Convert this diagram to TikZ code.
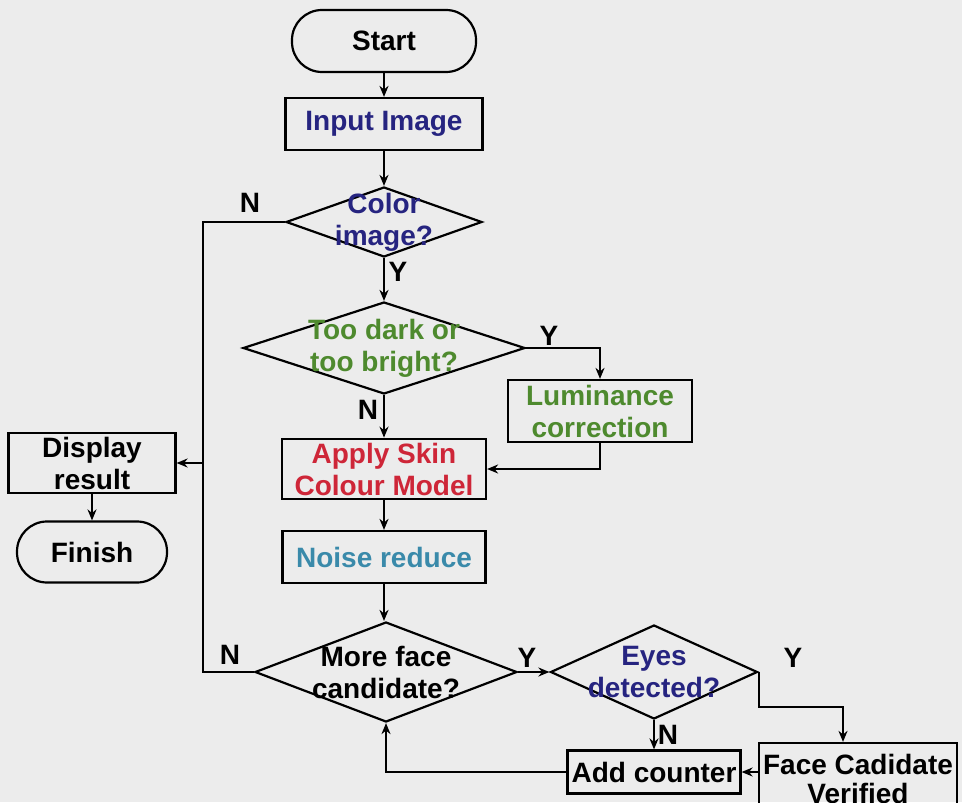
\documentclass[tikz,border=0pt]{standalone}
\usepackage{fontspec}
\setmainfont{Liberation Sans}
\usetikzlibrary{positioning,arrows.meta,shapes.geometric}

\definecolor{paper}{RGB}{236,236,236}
\definecolor{qnavy}{RGB}{38,36,128}
\definecolor{qgreen}{RGB}{78,138,46}
\definecolor{qred}{RGB}{206,38,56}
\definecolor{qteal}{RGB}{58,138,170}

\begin{document}
\begin{tikzpicture}[
    x=0.5pt, y=-0.5pt,
    font=\fontsize{14}{16}\selectfont\bfseries,
    box/.style={rectangle, draw, line width=1.1pt, inner sep=2pt, align=center},
    terminal/.style={rectangle, draw, line width=1.1pt, rounded corners=15pt, align=center},
    decision/.style={diamond, draw, line width=1.1pt, inner sep=0pt},
    yn/.style={font=\fontsize{14}{16}\selectfont\bfseries},
    arrow/.style={-{Stealth[length=5.5pt,width=4.5pt]}, line width=1.1pt},
    line/.style={line width=1.1pt}
]
\fill[paper] (0,0) rectangle (962,802);
\useasboundingbox (0,0) rectangle (962,802);
\clip (0,0) rectangle (962,802);

% -------- Main column --------
\node[terminal, minimum width=92pt, minimum height=31pt] (start) at (384,41) {Start};

\node[box, text=qnavy, minimum width=98.5pt, minimum height=26pt] (input) at (384,124) {Input Image};

\node[decision, minimum width=98pt, minimum height=35pt,
      label={[qnavy, align=center]center:Color\\image?}] (color) at (384,222) {};

\node[decision, minimum width=141pt, minimum height=46pt,
      label={[qgreen, align=center]center:Too dark or\\too bright?}] (dark) at (384,348) {};

\node[box, text=qgreen, minimum width=92pt, minimum height=31pt] (lum) at (600,411) {
Luminance\\
correction
};

\node[box, text=qred, minimum width=102pt, minimum height=29pt] (skin) at (384,469) {
Apply Skin\\
Colour Model
};

\node[box, text=qteal, minimum width=101.5pt, minimum height=26pt] (noise) at (384,557) {Noise reduce};

\node[decision, minimum width=131pt, minimum height=50pt,
      label={[align=center]center:More face\\candidate?}] (more) at (386,672) {};

% -------- Face check --------
\node[decision, minimum width=103.5pt, minimum height=47pt,
      label={[qnavy, align=center]center:Eyes\\detected?}] (eyes) at (654,672) {};

\node[box, minimum width=86.5pt, minimum height=21.5pt] (add) at (654,772) {Add counter};

\node[box, minimum width=97pt, minimum height=36pt, font=\fontsize{14}{14.5}\selectfont\bfseries] (face) at (858,779) {
Face Cadidate\\
Verified
};

% -------- Output --------
\node[box, minimum width=83.5pt, minimum height=29.5pt] (display) at (92,463) {
Display\\
result
};

\node[terminal, minimum width=75pt, minimum height=30.5pt] (finish) at (92,552) {Finish};

\coordinate (trunk) at (203,463);

% -------- Branch labels --------
\node[yn] (colorN) at (250,203) {N};
\node[yn] (colorY) at (398,272) {Y};
\node[yn] (darkY) at (549,336) {Y};
\node[yn] (darkN) at (368,410) {N};
\node[yn] (moreN) at (230,655) {N};
\node[yn] (moreY) at (527,658) {Y};
\node[yn] (eyesY) at (793,658) {Y};
\node[yn] (eyesN) at (668,735) {N};

% -------- Arrows --------
\draw[arrow] (start) -- (input);
\draw[arrow] (input) -- (color);
\draw[arrow] (color.south) -- (dark.north);
\draw[arrow] (dark.east) -| (lum.north);
\draw[arrow] (dark.south) -- (skin.north);
\draw[arrow] (lum.south) |- (skin.east);
\draw[arrow] (skin) -- (noise);
\draw[arrow] (noise.south) -- (noise.south |- more.north);
\draw[line] (color.west) -| (trunk);
\draw[line] (more.west) -| (trunk);
\draw[arrow] (trunk) -- (display.east);
\draw[arrow] (display) -- (finish);
\draw[arrow] (more.east) -- (eyes.west);
\draw[arrow] (eyes.east) -- ++(0,35) -| ([xshift=-7.5pt]face.north);
\draw[arrow] (eyes.south) -- (add.north);
\draw[arrow] (add.east -| face.west) -- (add.east);
\draw[arrow] (add.west) -| (more.south);

\end{tikzpicture}
\end{document}
